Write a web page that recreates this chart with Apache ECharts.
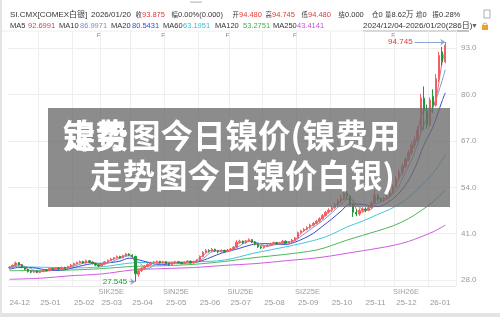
<!DOCTYPE html>
<html><head><meta charset="utf-8">
<script src="https://cdn.jsdelivr.net/npm/echarts@6/dist/echarts.min.js"></script>
<style>html,body{margin:0;padding:0;background:#fff}#c{width:500px;height:317px}</style>
</head><body><div id="c"></div>
<script>
// 2-trading-day candles, 2024-12-04 .. 2026-01-20
const openP = [31.4,31.6,32.1,32.9,32.3,31.5,31.0,30.4,30.2,30.5,
30.1,30.4,30.9,30.6,31.2,31.0,31.4,31.1,31.5,31.3,31.8,
32.2,32.6,32.9,33.2,32.8,33.4,33.0,32.6,32.2,
31.9,32.5,33.1,33.5,33.9,34.3,34.6,34.2,34.8,35.3,
35.0,34.6,29.6,30.6,31.2,31.8,32.4,32.8,33.0,33.2,32.8,
33.1,32.6,32.3,32.8,33.1,32.9,32.6,33.0,33.3,32.8,33.2,
33.5,34.6,35.8,36.3,36.1,36.6,36.2,35.9,36.3,36.0,
36.4,36.7,37.2,38.6,38.9,38.4,38.9,39.3,38.7,38.0,37.3,
37.0,37.4,37.8,38.2,38.5,38.1,38.4,38.9,38.3,38.6,39.2,
39.8,41.3,41.8,42.2,42.7,43.4,43.9,44.5,45.2,46.1,47.0,
47.6,48.3,49.1,50.2,51.0,52.4,51.6,49.2,47.0,46.5,47.5,
47.9,47.6,48.3,49.5,51.8,50.6,50.2,50.8,51.4,52.6,
54.2,56.5,58.3,60.0,61.8,63.7,65.9,67.2,70.0,79.0,75.5,
71.5,79.5,77.0,84.5,92.0,89.2];
const closeP = [31.6,32.1,32.8,32.3,31.5,31.0,30.4,30.2,30.5,30.1,
30.4,30.8,30.6,31.2,31.0,31.4,31.1,31.5,31.3,31.8,32.2,
32.6,32.9,33.2,32.8,33.4,33.0,32.6,32.2,31.9,
32.5,33.1,33.5,33.9,34.3,34.6,34.2,34.8,35.3,35.0,
34.6,29.8,30.6,31.2,31.8,32.4,32.8,33.0,33.2,32.8,33.1,
32.6,32.3,32.8,33.1,32.9,32.6,33.0,33.3,32.8,33.2,33.5,
34.6,35.8,36.3,36.1,36.6,36.2,35.9,36.3,36.0,36.4,
36.7,37.2,38.6,38.9,38.4,38.9,39.3,38.7,38.0,37.3,37.0,
37.4,37.8,38.2,38.5,38.1,38.4,38.9,38.3,38.6,39.2,39.8,
41.3,41.8,42.2,42.7,43.4,43.9,44.5,45.2,46.1,47.0,47.6,
48.3,49.1,50.2,51.0,52.4,51.6,49.2,47.0,46.5,47.5,47.9,
47.6,48.3,49.5,51.8,50.6,50.2,50.8,51.4,52.6,54.2,
56.5,58.3,60.0,61.8,63.7,65.9,67.2,70.0,79.0,75.5,71.5,
78.5,77.0,84.5,91.0,89.2,93.875];
const lowP = [31.1,31.4,31.9,32.0,31.3,30.8,30.1,29.9,30.0,29.9,
29.9,30.2,30.4,30.5,30.8,30.9,30.9,31.0,31.1,31.2,31.6,
32.0,32.4,32.7,32.6,32.7,32.8,32.4,31.9,31.6,
31.7,32.3,32.9,33.3,33.7,34.1,34.0,34.1,34.6,34.7,
34.2,27.545,28.9,30.2,30.9,31.5,32.1,32.5,32.7,32.6,32.6,
32.4,32.0,32.1,32.6,32.6,32.4,32.4,32.8,32.6,32.6,33.0,
33.4,34.4,35.5,35.7,35.9,35.9,35.5,35.7,35.7,35.8,
36.2,36.5,37.0,38.2,38.1,38.2,38.7,38.4,37.7,37.0,36.7,
36.8,37.2,37.6,38.0,37.9,37.9,38.2,38.1,38.0,38.4,39.0,
39.6,41.0,41.5,41.9,42.4,43.0,43.6,44.1,44.9,45.8,46.6,
47.1,47.9,48.7,49.6,50.5,50.8,48.6,45.7,45.9,46.0,46.9,
47.0,47.3,48.0,49.2,50.0,49.6,49.8,50.4,51.1,52.3,
53.9,55.8,57.5,59.4,61.2,63.0,65.0,66.5,69.6,70.2,70.4,
71.0,74.8,76.6,83.5,88.2,88.8];
const highP = [31.9,32.4,33.2,33.0,32.5,31.7,31.2,30.7,30.8,30.7,
30.6,31.0,31.1,31.4,31.4,31.6,31.6,31.8,31.7,32.0,32.5,
32.9,33.2,33.5,33.4,33.7,33.6,33.2,32.8,32.4,
32.7,33.3,33.8,34.2,34.5,34.9,34.8,35.1,35.6,35.5,
35.2,34.8,31.0,31.6,32.2,32.7,33.1,33.3,33.5,33.4,33.4,
33.3,32.8,33.0,33.4,33.3,33.1,33.2,33.6,33.4,33.4,33.8,
34.9,36.1,36.7,36.6,37.0,36.8,36.4,36.6,36.5,36.7,
37.0,37.5,39.2,39.3,39.1,39.2,39.7,39.5,38.9,38.2,37.5,
37.6,38.1,38.5,38.8,38.7,38.7,39.2,39.1,38.9,39.5,40.1,
41.6,42.1,42.6,43.1,43.8,44.3,44.9,45.6,46.5,47.4,48.1,
48.8,49.6,50.8,51.9,53.3,53.0,51.9,49.5,47.8,48.1,48.4,
48.4,48.8,50.2,53.3,52.2,51.0,51.3,51.9,53.2,54.8,
57.1,59.0,60.8,62.5,64.5,66.8,68.4,71.2,80.2,82.3,77.2,
79.2,81.5,85.8,92.0,93.4,94.745];

const monthLabels = ['24-12','25-01','25-02','25-03','25-04','25-05','25-06','25-07','25-08','25-09','25-10','25-11','25-12','26-01'];
const monthStarts = [0,10,21,30,40,51,62,72,83,94,105,116,126,137];
const contracts = ['SIK25E','SIN25E','SIU25E','SIZ25E','SIH26E'];
const contractStarts = [29,50,71,93,125];
const yTicks = [28,41,54,67,80,93];

const fastIdx = [0,3,6,9,12,15,18,21,24,27,30,33,36,39,41,42,45,48,51,54,57,60,63,66,69,72,75,78,81,84,87,90,93,96,99,102,105,108,111,114,117,120,123,126,129,132,135,138,141,142];
const ma5 = [31.4,32.5,30.9,30.3,30.6,31.2,31.3,32.3,33.0,32.9,32.2,33.6,34.4,35.1,32.8,31.1,31.9,33.0,32.8,32.8,32.8,33.1,34.9,36.3,36.1,36.4,38.4,39.0,37.9,37.5,38.3,38.6,39.3,41.9,43.5,45.4,47.8,50.3,50.8,47.0,47.9,50.9,50.9,54.8,60.4,66.0,75.8,76.5,89.0,92.7];
const ma10 = [31.2,32.0,31.6,30.4,30.5,31.0,31.3,31.9,32.7,33.0,32.4,33.0,34.1,34.8,33.9,33.1,31.2,32.6,32.9,32.8,32.9,33.0,34.0,35.9,36.2,36.3,37.6,38.8,38.4,37.5,38.0,38.4,39.0,40.9,42.8,44.6,46.8,49.2,50.9,48.4,47.6,49.6,51.0,53.1,58.2,63.7,71.5,76.3,84.0,87.0];
const ma20 = [31.0,31.5,31.5,31.3,30.8,30.7,30.9,31.5,32.1,32.6,32.7,32.9,33.3,34.1,34.0,33.7,33.0,32.4,32.4,32.8,32.8,32.9,33.5,34.5,35.5,36.2,36.9,37.7,38.2,38.2,38.0,38.0,38.6,39.7,41.1,43.1,45.1,47.3,49.3,49.3,48.9,48.6,49.6,51.6,54.6,59.2,65.8,71.0,78.3,80.5];
const slowIdx = [0,10,20,30,40,50,60,70,80,90,100,105,110,115,120,125,130,134,138,142];
const ma60 = [31.8,31.6,31.4,31.7,32.8,33.0,33.1,33.6,35.6,37.3,39.3,40.8,42.9,44.5,46.4,48.3,51.1,54.3,57.9,63.2];
const ma120 = [30.6,30.7,30.8,31.2,31.8,32.0,32.4,33.2,34.3,35.2,36.4,37.7,39.2,40.5,41.8,43.2,45.2,47.4,49.9,53.3];
const ma250 = [28.2,28.5,29.2,29.7,30.8,31.2,31.5,32.1,32.6,33.4,34.2,34.8,35.5,36.2,36.9,37.7,38.8,40.1,41.5,43.4];

const PAD = 3;
const cats = [];
for (let i = 0; i < openP.length + PAD; i++) cats.push(String(i));
const candles = openP.map((o, i) => [o, closeP[i], lowP[i], highP[i]]);
let maxI = 0, minI = 0;
highP.forEach((v, i) => { if (v > highP[maxI]) maxI = i; });
lowP.forEach((v, i) => { if (v < lowP[minI]) minI = i; });
const pairs = (idx, vals) => idx.map((x, k) => [x, vals[k]]);

const RED = '#e53935', UP = '#f06262', DOWN = '#23953a';
const FONT = "'Liberation Sans','Noto Sans CJK SC',sans-serif";
const CJK = "'Noto Sans CJK SC',sans-serif";
const maLine = (name, idx, vals, color) => ({
  name, type: 'line', data: pairs(idx, vals), showSymbol: false, smooth: 0.35,
  lineStyle: { width: 1, color }, z: 3, silent: true
});

function txt(x, y, text, fill, size, fam) {
  return { type: 'text', x, y, silent: true,
    style: { text, fill: fill || '#333', font: (size || 7.5) + 'px ' + (fam || FONT), textVerticalAlign: 'middle' } };
}
function kv(label, vx, y, value, color) {
  return [txt(vx - 6.6, y, label, '#333', 6.3, CJK), txt(vx, y, value, color || '#333')];
}
const header = [].concat(
  [txt(10,15,'SI.CMX[COMEX白银]','#333',8), txt(91,15,'2026/01/20','#333',8)],
  kv('收',142,15,'93.875',RED), kv('幅',178,15,'0.00%(0.000)'),
  kv('开',239,15,'94.480',RED), kv('高',272,15,'94.745',RED),
  kv('低',308,15,'94.480',RED), kv('结',345,15,'0.000'),
  kv('仓',378.5,15,'0'), kv('量',391.5,15,'8.62万'),
  kv('增',422.5,15,'0'), kv('振',439,15,'0.28%'),
  [
  txt(10,26,'MA5'), txt(28,26,'92.6991',RED),
  txt(59,26,'MA10'), txt(80,26,'86.9971','#6d90d4'),
  txt(111,26,'MA20'), txt(132,26,'80.5431','#2f4ddc'),
  txt(163,26,'MA60'), txt(183,26,'63.1951','#34c0d2'),
  txt(215,26,'MA120'), txt(243,26,'53.2751','#3cb34a'),
  txt(273,26,'MA250'), txt(297,26,'43.4141','#cf4be0'),
  txt(363,26,'2024/12/04-2026/01/20(286日)','#333',8),
  { type:'line', silent:true, shape:{x1:363,y1:31,x2:469,y2:31}, style:{stroke:'#555',lineWidth:0.7} },
  txt(471,26,'▼','#666',7),
  { type:'rect', silent:true, shape:{x:482,y:25,width:6,height:5}, style:{fill:'#f0a028'} },
  { type:'arc', silent:true, shape:{cx:485,cy:25,r:2,startAngle:Math.PI,endAngle:0}, style:{stroke:'#f0a028',fill:null,lineWidth:1} },
  { type:'rect', silent:true, shape:{x:484,y:10,width:6,height:8}, style:{fill:'#fff',stroke:'#999',lineWidth:0.8} },
  { type:'rect', silent:true, shape:{x:190,y:1.5,width:12,height:1.2}, style:{fill:'#bbb'} },
  { type:'line', silent:true, shape:{x1:0,y1:31,x2:457,y2:31}, style:{stroke:'#eeeeee',lineWidth:1} },
  { type:'rect', silent:true, shape:{x:0,y:0,width:2,height:317}, style:{fill:'#e4e4e4'} },
  { type:'rect', silent:true, shape:{x:0,y:313,width:500,height:4}, style:{fill:'#e4e4e4'} }
  ]);
const TFONT = "bold 32.5px 'Noto Sans CJK SC',sans-serif";
const overlay = [
  { type:'rect', silent:true, z:100, shape:{x:48,y:108,width:402,height:99}, style:{fill:'rgba(108,108,108,0.78)'} },
  { type:'text', silent:true, z:101, x:63, y:136, style:{text:'镍费图今日镍价(镍费用', fill:'#fff', font:TFONT, textVerticalAlign:'middle'} },
  { type:'text', silent:true, z:101, x:63, y:136, style:{text:'走势', fill:'#fff', font:TFONT, textVerticalAlign:'middle'} },
  { type:'text', silent:true, z:101, x:90, y:176, style:{text:'走势图今日镍价白银)', fill:'#fff', font:TFONT, textVerticalAlign:'middle'} }
];

const chart = echarts.init(document.getElementById('c'), null, { renderer: 'canvas' });
chart.setOption({
  animation: false,
  backgroundColor: '#fff',
  grid: { left: 8, right: 44, top: 31, bottom: 31 },
  xAxis: [
    { type: 'category', data: cats, boundaryGap: true,
      axisLine: { lineStyle: { color: '#e8e8e8' } }, axisTick: { show: false },
      axisLabel: { interval: (i) => monthStarts.includes(i), formatter: (v, i) => monthLabels[monthStarts.indexOf(Number(v))],
        align: 'left', color: '#9a9a9a', fontSize: 8, fontFamily: FONT, margin: 13 },
      splitLine: { show: true, interval: (i) => monthStarts.includes(i) && i > 0, lineStyle: { color: '#eeeeee', width: 1 } } },
    { type: 'category', data: cats, boundaryGap: true, position: 'bottom',
      axisLine: { show: false }, axisTick: { show: false }, splitLine: { show: false },
      axisLabel: { interval: (i) => contractStarts.includes(i), formatter: (v) => contracts[contractStarts.indexOf(Number(v))],
        align: 'left', color: '#a0a0a0', fontSize: 7.5, fontFamily: FONT, margin: 2 } },
    { type: 'category', data: cats, boundaryGap: true, position: 'top',
      axisLine: { show: false }, axisTick: { show: false }, splitLine: { show: false },
      axisLabel: { inside: true, interval: (i) => contractStarts.includes(i), formatter: () => 'F',
        color: '#888', fontSize: 6, fontFamily: FONT, margin: 1 } }
  ],
  yAxis: { type: 'value', position: 'right', min: 26.32, max: 97.85,
    axisLine: { show: false }, axisTick: { show: false, customValues: yTicks },
    axisLabel: { customValues: yTicks, formatter: (v) => v.toFixed(1), color: '#9a9a9a', fontSize: 8, fontFamily: FONT, margin: 5 },
    splitLine: { show: true, lineStyle: { color: '#eeeeee', width: 1 } } },
  series: [
    { type: 'candlestick', data: candles, barWidth: '62%', z: 4,
      itemStyle: { color: UP, color0: DOWN, borderColor: UP, borderColor0: DOWN, borderWidth: 1 },
      markLine: { silent: true, symbol: ['none', 'arrow'], symbolSize: 5, animation: false,
        data: [
          [ { coord: [maxI - 10, highP[maxI]], label: { color: RED, formatter: highP[maxI].toFixed(3) } }, { coord: [maxI, highP[maxI]] } ],
          [ { coord: [minI - 2, lowP[minI]], label: { color: DOWN, formatter: lowP[minI].toFixed(3) } }, { coord: [minI, lowP[minI]] } ]
        ],
        lineStyle: { color: '#8ea6d4', width: 1, type: 'solid' },
        label: { show: true, position: 'start', fontSize: 8, fontFamily: FONT, distance: 2 } } },
    maLine('MA250', slowIdx, ma250, '#d05ae2'),
    maLine('MA120', slowIdx, ma120, '#4cb85a'),
    maLine('MA60', slowIdx, ma60, '#48c6d8'),
    maLine('MA20', fastIdx, ma20, '#3249d6'),
    maLine('MA10', fastIdx, ma10, '#7d9bd8'),
    maLine('MA5', fastIdx, ma5, '#ee6a78')
  ],
  graphic: header.concat(overlay)
});
</script>
</body></html>
